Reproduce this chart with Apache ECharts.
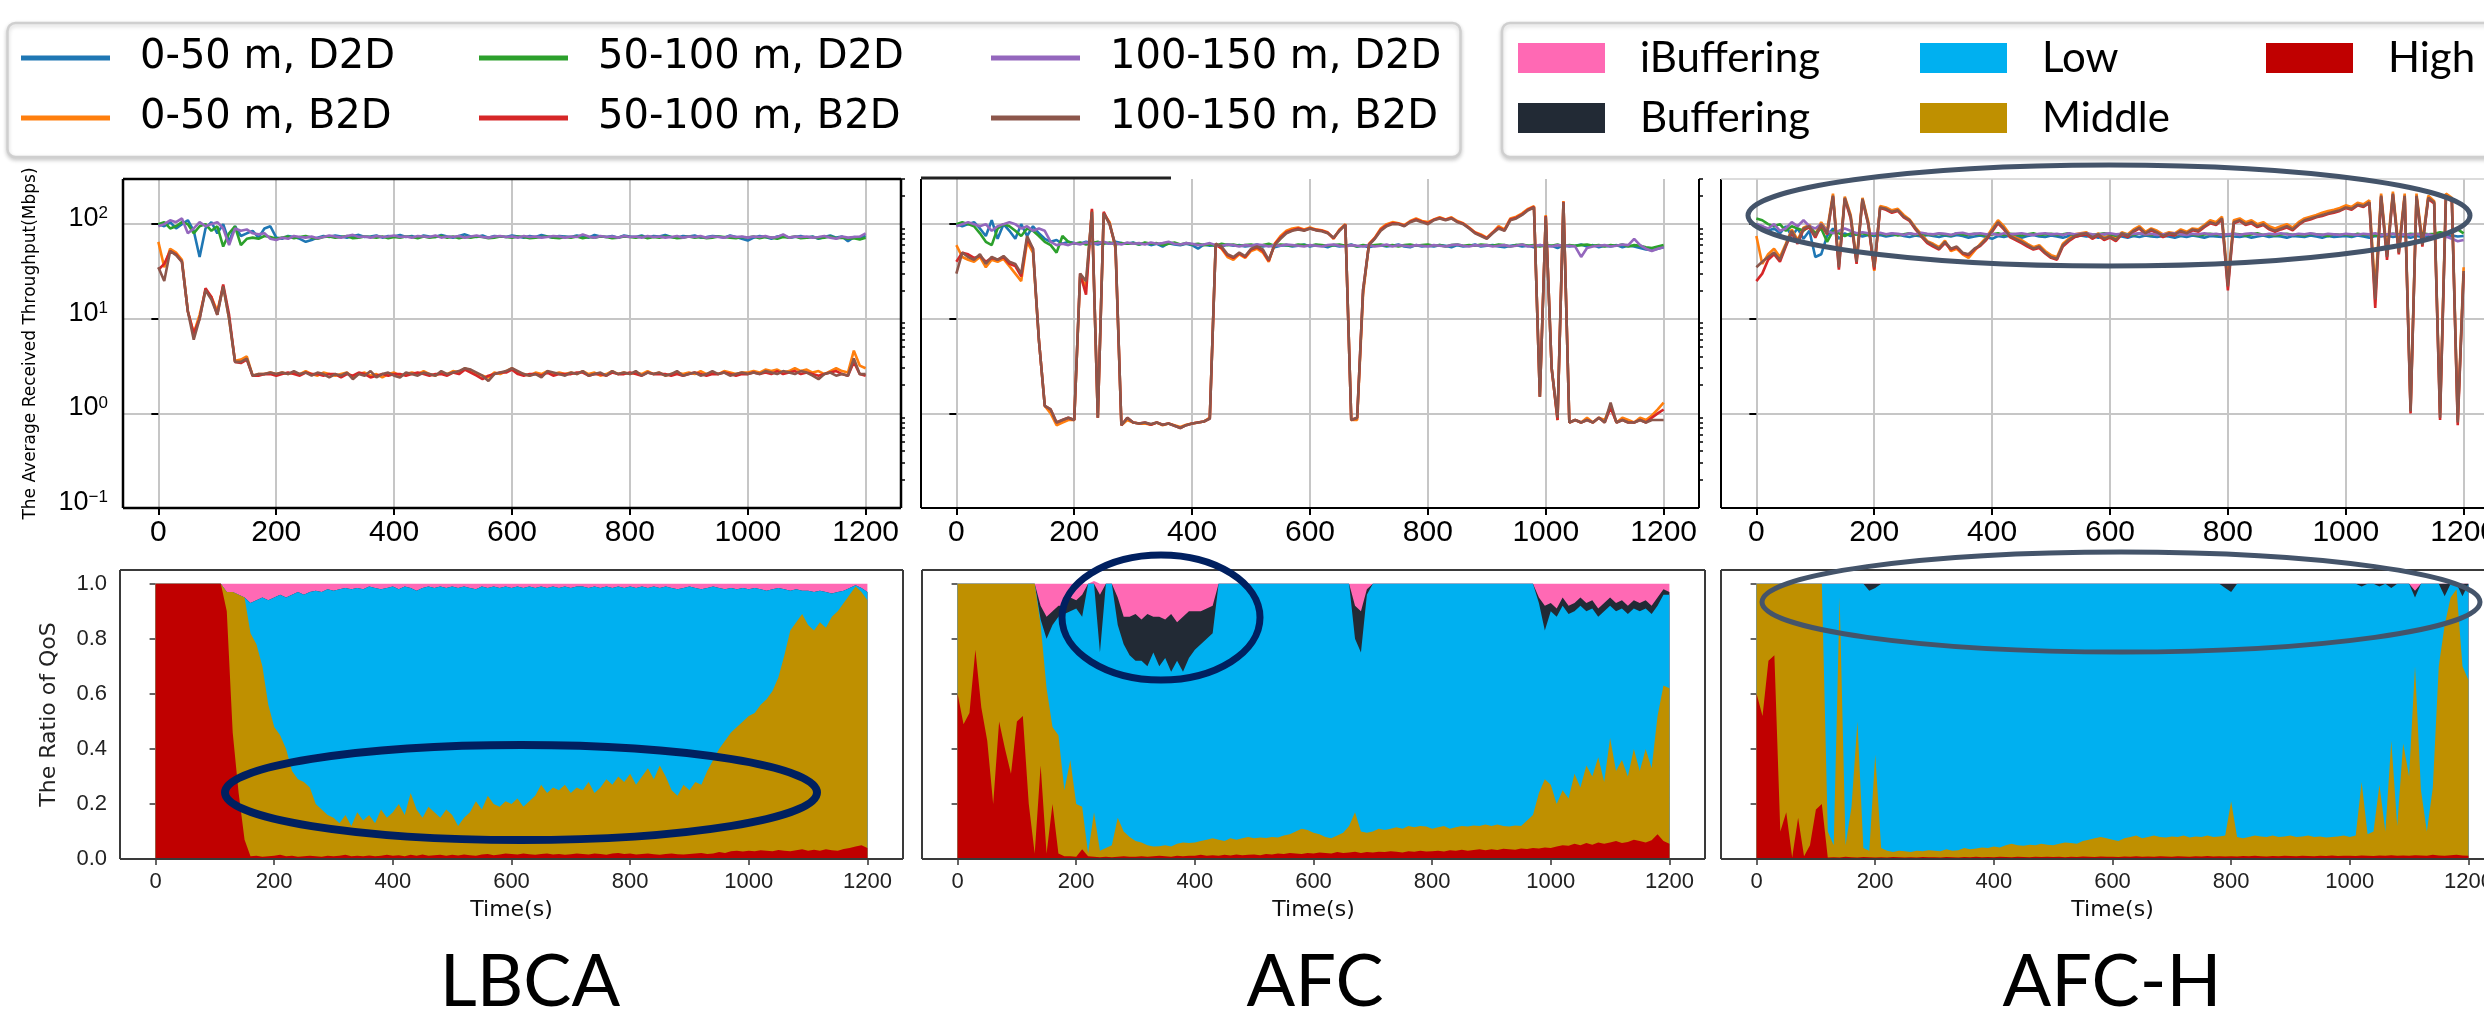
<!DOCTYPE html>
<html><head><meta charset="utf-8">
<script src="https://cdn.jsdelivr.net/npm/echarts@6/dist/echarts.min.js"></script>
<style>html,body{margin:0;padding:0;background:#fff}#c{width:2484px;height:1012px}</style>
</head><body><div id="c"></div><script>
// ---------- sampling grid (s) ----------
const T = [0,10,20,30,40,50,60,70,80,90,100,110,120,130,140,150,160,170,180,190,200,210,220,230,240,250,260,270,280,290,300,310,320,330,340,350,360,370,380,390,400,410,420,430,440,450,460,470,480,490,500,510,520,530,540,550,560,570,580,590,600,610,620,630,640,650,660,670,680,690,700,710,720,730,740,750,760,770,780,790,800,810,820,830,840,850,860,870,880,890,900,910,920,930,940,950,960,970,980,990,1000,1010,1020,1030,1040,1050,1060,1070,1080,1090,1100,1110,1120,1130,1140,1150,1160,1170,1180,1190,1200];
const X_TICKS = [0,200,400,600,800,1000,1200];
const TP_YTICKS = [0.1,1,10,100];
const TP_MINOR = [0.2,0.3,0.4,0.5,0.6,0.7,0.8,0.9,2,3,4,5,6,7,8,9,20,30,40,50,60,70,80,90,200,300];
const QOS_YTICKS = [0,0.2,0.4,0.6,0.8,1.0];
const PANEL_TITLES = ['LBCA','AFC','AFC-H'];

// ---------- LBCA throughput (Mbps) ----------
const lbcaD2D050 = [100,95,105,90,100,110,85,45,90,105,80,100,65,95,75,80,85,72,90,95,72,70,75,73,70,65,68,72,75,73,76,74,72,75,77,73,74,76,72,75,74,77,73,75,72,76,74,73,77,74,72,75,78,74,73,76,72,75,74,73,76,74,72,75,73,77,74,72,75,74,73,76,74,72,77,74,73,75,72,76,74,73,76,72,75,74,77,73,72,75,74,76,72,73,75,74,72,76,73,70,67,72,75,73,70,74,76,72,73,75,72,74,70,73,76,72,74,66,73,72,75];
const lbcaB2D050 = [65,35,55,50,42,12,7,11,20,17,12,22,10,3.6,3.7,4.0,2.5,2.6,2.6,2.7,2.6,2.7,2.6,2.7,2.6,2.8,2.6,2.5,2.7,2.6,2.5,2.6,2.7,2.4,2.6,2.7,2.5,2.6,2.4,2.6,2.7,2.5,2.6,2.7,2.6,2.8,2.6,2.5,2.7,2.6,2.8,2.7,3.0,2.8,2.6,2.5,2.4,2.7,2.6,2.8,3.0,2.7,2.6,2.5,2.7,2.6,2.8,2.6,2.7,2.6,2.7,2.6,2.8,2.6,2.7,2.5,2.6,2.8,2.6,2.7,2.6,2.7,2.6,2.8,2.6,2.7,2.5,2.6,2.7,2.6,2.7,2.6,2.8,2.6,2.7,2.6,2.8,2.7,2.6,2.7,2.7,2.8,2.7,2.9,2.8,2.9,2.7,2.8,3.0,2.8,2.9,2.7,2.8,2.6,2.8,3.0,2.8,2.7,4.6,3.2,3.0];
const lbcaD2D50100 = [100,105,90,95,105,100,80,95,100,85,95,58,80,95,60,70,72,70,75,73,70,72,74,71,73,75,72,70,73,74,72,73,75,71,72,74,73,72,74,71,73,72,74,73,71,74,72,73,75,72,74,71,73,72,74,73,71,72,74,73,72,74,73,71,72,73,74,72,71,73,72,74,71,73,72,74,73,71,72,74,73,72,74,71,73,72,74,73,71,72,74,72,73,71,72,74,73,72,71,73,72,74,71,73,72,70,73,72,74,71,72,73,71,72,74,71,72,70,71,69,72];
const lbcaB2D50100 = [33,38,52,48,40,12,7,10,21,17,11,23,11,3.5,3.4,3.7,2.5,2.5,2.6,2.6,2.5,2.6,2.7,2.6,2.5,2.7,2.6,2.6,2.5,2.6,2.6,2.4,2.6,2.5,2.7,2.6,2.4,2.5,2.6,2.5,2.6,2.6,2.5,2.6,2.7,2.6,2.5,2.6,2.6,2.5,2.7,2.6,2.9,2.7,2.5,2.3,2.5,2.6,2.7,2.7,2.9,2.6,2.5,2.6,2.6,2.5,2.7,2.5,2.6,2.6,2.6,2.7,2.7,2.5,2.6,2.6,2.5,2.7,2.6,2.6,2.7,2.6,2.5,2.7,2.6,2.6,2.6,2.5,2.6,2.5,2.6,2.7,2.6,2.5,2.6,2.6,2.7,2.6,2.5,2.6,2.6,2.7,2.6,2.7,2.6,2.8,2.6,2.7,2.8,2.6,2.7,2.6,2.5,2.6,2.7,2.8,2.6,2.5,3.5,2.6,2.5];
const lbcaD2D100150 = [95,100,110,105,115,80,90,105,95,100,105,90,60,90,85,88,80,78,80,70,68,72,70,75,73,72,74,71,73,76,74,72,75,77,73,74,72,75,73,74,76,73,74,72,75,74,73,76,72,74,73,75,72,74,76,73,72,74,75,73,74,72,75,73,74,72,73,75,74,72,74,73,78,74,72,75,73,74,72,75,73,74,72,75,73,74,72,73,75,72,74,73,75,72,74,73,72,75,73,74,72,74,73,75,72,73,78,72,74,73,74,72,73,75,72,70,74,72,73,74,80];
const lbcaB2D100150 = [35,25,52,47,40,12,6,10,20,16,11,22,10,3.5,3.5,3.8,2.5,2.6,2.6,2.7,2.6,2.7,2.6,2.8,2.6,2.7,2.5,2.7,2.6,2.4,2.6,2.5,2.7,2.3,2.6,2.5,2.8,2.4,2.6,2.7,2.5,2.4,2.7,2.6,2.5,2.7,2.6,2.5,2.8,2.6,2.7,2.8,3.0,2.9,2.7,2.5,2.2,2.6,2.7,2.8,3.0,2.8,2.6,2.5,2.6,2.4,2.8,2.7,2.6,2.5,2.7,2.6,2.8,2.5,2.6,2.7,2.5,2.8,2.6,2.7,2.6,2.8,2.5,2.7,2.6,2.7,2.5,2.6,2.8,2.5,2.6,2.7,2.5,2.6,2.8,2.6,2.7,2.5,2.6,2.7,2.6,2.7,2.6,2.8,2.7,2.6,2.8,2.7,2.6,2.8,2.7,2.5,2.3,2.6,2.7,2.5,2.6,2.5,3.8,2.6,2.6];

// ---------- AFC throughput (Mbps) ----------
const afcD2D050 = [100,95,100,105,90,75,110,70,100,85,70,100,75,95,80,70,65,68,62,65,63,62,65,63,61,64,62,65,63,62,64,61,63,60,62,58,63,61,60,62,60,55,61,59,60,58,61,59,60,58,59,61,58,60,57,59,60,58,59,61,58,60,59,57,60,58,59,61,58,59,57,59,60,58,59,61,58,57,60,58,59,58,60,59,57,60,58,59,61,58,59,60,58,57,59,60,58,59,57,60,58,59,56,60,58,59,61,58,60,57,59,58,60,57,59,58,56,54,53,55,57];
const afcB2D050 = [60,45,42,40,45,35,42,40,43,36,30,25,65,50,6,1.2,1.0,0.75,0.8,0.85,0.85,28,22,140,0.9,130,105,55,0.75,0.85,0.8,0.78,0.78,0.76,0.8,0.75,0.78,0.75,0.72,0.76,0.78,0.8,0.82,0.9,62,55,45,42,48,44,52,55,50,40,62,75,85,90,92,88,92,88,86,82,70,88,100,0.85,0.85,18,62,72,90,100,105,102,98,108,115,108,105,112,118,112,118,108,102,92,82,78,72,82,95,88,115,120,130,145,155,1.5,125,3,0.85,175,0.8,0.85,0.8,0.9,0.8,0.9,0.85,1.2,0.8,0.9,0.85,0.8,0.9,0.85,0.95,1.1,1.3];
const afcD2D50100 = [100,105,100,95,80,65,60,90,100,95,85,75,90,85,75,65,60,50,75,65,62,64,61,63,65,62,64,61,63,62,63,61,64,62,63,60,62,64,61,63,61,62,60,61,59,62,60,61,59,60,61,59,60,62,59,61,60,59,61,60,59,61,60,59,60,61,59,60,58,60,59,60,61,59,60,58,60,61,59,60,61,59,60,58,60,61,59,60,59,61,60,59,61,60,58,60,61,59,60,58,60,59,61,58,60,59,60,61,59,60,58,60,59,61,58,60,59,57,56,58,60];
const afcB2D50100 = [40,50,48,44,46,40,44,42,45,38,36,28,70,55,6,1.2,1.1,0.8,0.85,0.9,0.85,30,18,145,0.9,135,100,58,0.75,0.9,0.8,0.78,0.8,0.76,0.8,0.76,0.78,0.74,0.7,0.75,0.78,0.8,0.82,0.88,60,56,47,44,49,45,54,57,52,41,61,72,82,86,90,86,90,87,85,81,71,86,99,0.85,0.9,20,61,71,87,97,102,101,96,106,112,106,102,111,116,111,116,106,101,91,81,76,71,81,92,86,112,117,127,142,152,1.5,122,3,0.85,172,0.8,0.85,0.8,0.85,0.8,0.9,0.8,1.15,0.8,0.85,0.8,0.8,0.85,0.8,0.9,1.0,1.1];
const afcD2D100150 = [95,100,105,100,95,100,85,95,100,105,100,90,95,85,90,85,65,60,62,60,63,61,64,62,63,65,62,63,61,64,62,63,61,64,62,63,65,62,61,63,62,60,61,63,60,59,61,60,58,60,59,61,60,58,60,59,61,60,59,58,60,59,58,60,61,59,58,60,59,58,60,58,59,61,58,60,59,58,60,59,58,60,59,58,60,61,59,58,60,59,60,58,59,60,58,59,61,58,59,60,59,58,60,59,59,58,45,56,58,59,60,58,59,61,60,70,60,55,52,55,57];
const afcB2D100150 = [30,50,45,42,48,38,45,42,46,40,38,30,75,55,6,1.2,1.1,0.8,0.85,0.9,0.85,30,25,135,0.9,130,100,60,0.75,0.9,0.8,0.78,0.8,0.77,0.8,0.76,0.78,0.74,0.7,0.75,0.78,0.8,0.82,0.88,62,58,48,45,50,46,55,58,54,42,60,70,80,85,88,85,90,86,84,80,72,85,98,0.85,0.9,20,60,70,85,95,100,100,95,105,110,105,100,110,115,110,115,105,100,90,80,75,70,80,90,85,110,115,125,140,150,1.5,120,3,0.9,170,0.8,0.85,0.8,0.85,0.8,0.9,0.8,1.3,0.8,0.85,0.8,0.8,0.85,0.8,0.85,0.85,0.85];

// ---------- AFC-H throughput (Mbps) ----------
const afchD2D050 = [100,95,85,90,80,95,75,90,70,85,45,48,75,90,70,80,75,78,74,77,75,77,74,76,78,75,73,76,74,77,75,73,76,74,77,75,72,74,76,73,70,75,73,76,74,72,75,77,74,73,76,74,72,75,73,76,74,75,72,74,73,76,74,72,75,73,76,74,73,75,74,72,75,73,76,74,72,75,74,73,76,74,73,75,72,74,76,73,75,74,72,75,74,73,76,74,72,75,73,74,75,73,76,74,72,75,74,76,73,75,74,72,75,73,76,74,75,73,76,74,75];
const afchB2D050 = [75,38,48,55,45,62,88,68,92,98,78,105,85,210,38,195,125,42,190,105,32,155,150,140,145,125,112,92,78,66,62,57,67,52,55,48,44,52,62,72,90,110,95,78,72,68,62,57,60,52,47,45,62,70,78,80,82,74,80,72,76,70,82,78,88,95,83,90,85,78,82,80,88,83,90,88,98,110,105,120,25,110,115,105,110,100,105,95,90,95,100,92,105,115,120,125,132,138,142,148,158,152,168,162,178,20,210,50,220,55,210,1.1,210,65,200,175,1.0,210,190,0.85,35];
const afchD2D50100 = [115,110,100,95,100,85,95,90,85,95,80,90,65,85,80,75,80,78,80,77,78,80,77,79,76,78,80,77,79,78,77,79,78,76,80,78,77,79,78,76,78,80,77,79,78,76,78,80,77,78,79,77,78,80,76,78,79,77,78,80,78,76,79,78,77,80,78,77,79,76,78,79,77,80,78,76,78,79,77,78,77,79,78,76,78,80,77,78,76,78,79,77,78,76,79,78,77,75,78,77,78,76,79,77,78,76,78,77,79,78,77,79,78,80,78,79,82,80,84,88,80];
const afchB2D50100 = [25,30,42,48,40,58,82,62,88,92,72,98,78,195,33,185,115,38,180,98,33,148,142,132,138,118,108,88,74,63,58,54,63,54,57,49,47,54,59,68,83,102,88,73,68,63,58,54,56,49,44,42,58,66,73,76,78,70,76,68,72,66,78,73,83,90,78,86,80,73,78,76,83,78,86,83,93,102,98,112,20,102,108,98,102,93,98,88,83,88,92,86,98,108,112,118,122,128,132,138,148,142,158,152,168,13,195,42,205,48,195,1.0,195,58,185,165,0.85,195,175,0.75,30];
const afchD2D100150 = [100,95,90,100,85,90,105,95,110,95,90,100,85,80,85,90,85,80,82,80,79,81,78,80,79,77,80,78,81,79,78,80,79,77,80,81,78,79,80,78,79,77,80,78,79,80,78,77,79,80,78,79,77,80,78,79,80,78,77,79,80,78,79,77,79,80,78,79,77,78,79,80,78,77,79,78,80,78,79,77,78,79,77,79,80,78,77,79,78,80,78,77,79,78,80,78,77,79,78,77,79,78,77,79,78,80,77,78,79,77,78,77,79,76,78,75,77,74,70,66,68];
const afchB2D100150 = [35,40,45,50,42,60,85,65,90,95,75,100,80,200,35,190,120,40,185,100,35,150,145,135,140,120,110,90,75,65,60,55,65,55,58,50,48,55,60,70,85,105,90,75,70,65,60,55,58,50,45,43,60,68,75,78,80,72,78,70,74,68,80,75,85,92,80,88,82,75,80,78,85,80,88,85,95,105,100,115,22,105,110,100,105,95,100,90,85,90,95,88,100,110,115,120,125,130,135,140,150,145,160,155,170,16,200,45,210,50,200,1.05,200,60,190,170,0.9,200,180,0.8,32];

// ---------- QoS ratio: upper edge of each layer ----------
const lbcaHighTop = [1,1,1,1,1,1,1,1,1,1,1,1,0.9,0.46,0.24,0.07,0.01,0.012,0.008,0.01,0.012,0.015,0.01,0.012,0.008,0.01,0.012,0.01,0.008,0.012,0.01,0.012,0.015,0.01,0.012,0.01,0.013,0.01,0.012,0.015,0.012,0.014,0.01,0.015,0.012,0.016,0.012,0.014,0.015,0.012,0.015,0.013,0.016,0.014,0.012,0.016,0.018,0.014,0.016,0.02,0.018,0.016,0.02,0.017,0.015,0.018,0.02,0.016,0.018,0.015,0.017,0.02,0.018,0.016,0.02,0.018,0.015,0.02,0.022,0.018,0.02,0.016,0.018,0.02,0.017,0.015,0.018,0.02,0.017,0.016,0.018,0.02,0.022,0.018,0.02,0.025,0.022,0.028,0.03,0.027,0.03,0.028,0.032,0.03,0.028,0.033,0.03,0.028,0.032,0.035,0.03,0.034,0.03,0.035,0.032,0.03,0.036,0.04,0.045,0.05,0.04];
const lbcaMidTop = [1,1,1,1,1,1,1,1,1,1,1,1,0.97,0.97,0.96,0.95,0.82,0.78,0.7,0.56,0.48,0.45,0.4,0.32,0.29,0.28,0.26,0.2,0.18,0.16,0.15,0.13,0.16,0.12,0.17,0.14,0.16,0.13,0.18,0.15,0.17,0.2,0.16,0.24,0.18,0.15,0.19,0.17,0.15,0.18,0.16,0.12,0.15,0.17,0.21,0.18,0.23,0.2,0.19,0.21,0.2,0.22,0.19,0.21,0.23,0.27,0.24,0.26,0.25,0.27,0.24,0.26,0.25,0.28,0.24,0.26,0.29,0.27,0.3,0.28,0.31,0.27,0.3,0.33,0.29,0.34,0.3,0.25,0.23,0.27,0.25,0.28,0.27,0.32,0.36,0.4,0.43,0.46,0.48,0.5,0.52,0.53,0.56,0.58,0.61,0.66,0.74,0.83,0.86,0.89,0.85,0.83,0.86,0.84,0.88,0.9,0.93,0.96,0.99,0.97,0.94];
const lbcaLowTop = [1,1,1,1,1,1,1,1,1,1,1,1,0.97,0.97,0.96,0.95,0.93,0.94,0.95,0.94,0.95,0.96,0.95,0.96,0.97,0.96,0.97,0.975,0.97,0.98,0.975,0.98,0.985,0.98,0.985,0.98,0.99,0.985,0.98,0.985,0.99,0.98,0.99,0.985,0.975,0.985,0.99,0.985,0.99,0.985,0.99,0.985,0.99,0.985,0.98,0.99,0.985,0.99,0.985,0.99,0.985,0.99,0.985,0.99,0.985,0.99,0.985,0.99,0.985,0.99,0.985,0.99,0.99,0.985,0.99,0.985,0.99,0.985,0.99,0.985,0.99,0.985,0.99,0.985,0.99,0.985,0.99,0.985,0.98,0.985,0.99,0.985,0.98,0.985,0.99,0.985,0.98,0.985,0.98,0.985,0.98,0.985,0.98,0.975,0.98,0.985,0.98,0.975,0.98,0.975,0.975,0.97,0.975,0.97,0.965,0.97,0.975,0.985,0.995,0.985,0.97];
const lbcaBufTop = lbcaLowTop; // no visible Buffering layer in LBCA

const afcHighTop = [0.6,0.49,0.53,0.76,0.55,0.43,0.2,0.5,0.4,0.31,0.5,0.52,0.2,0.02,0.34,0.02,0.2,0.02,0.01,0.01,0.008,0.035,0.01,0.008,0.006,0.008,0.006,0.008,0.01,0.008,0.008,0.01,0.008,0.01,0.012,0.01,0.008,0.012,0.01,0.012,0.012,0.015,0.012,0.014,0.012,0.015,0.013,0.016,0.014,0.015,0.016,0.014,0.018,0.016,0.02,0.018,0.022,0.02,0.018,0.022,0.02,0.024,0.022,0.02,0.025,0.022,0.024,0.026,0.022,0.025,0.024,0.026,0.025,0.028,0.026,0.024,0.028,0.026,0.03,0.027,0.028,0.03,0.027,0.032,0.03,0.034,0.03,0.033,0.035,0.032,0.035,0.033,0.037,0.035,0.034,0.038,0.036,0.04,0.038,0.042,0.04,0.045,0.05,0.048,0.055,0.05,0.058,0.052,0.06,0.055,0.06,0.065,0.058,0.062,0.07,0.065,0.06,0.068,0.09,0.065,0.055];
const afcMidTop = [1,1,1,1,1,1,1,1,1,1,1,1,1,1,0.85,0.62,0.48,0.45,0.25,0.36,0.2,0.19,0.02,0.17,0.03,0.04,0.05,0.15,0.1,0.08,0.065,0.06,0.05,0.045,0.046,0.05,0.045,0.055,0.06,0.058,0.06,0.065,0.07,0.075,0.07,0.065,0.075,0.07,0.075,0.08,0.075,0.078,0.076,0.08,0.078,0.085,0.09,0.1,0.11,0.105,0.095,0.09,0.08,0.075,0.085,0.095,0.12,0.17,0.1,0.095,0.1,0.11,0.105,0.11,0.115,0.11,0.12,0.115,0.12,0.118,0.11,0.115,0.12,0.11,0.115,0.12,0.118,0.122,0.12,0.125,0.12,0.125,0.12,0.118,0.122,0.12,0.14,0.16,0.24,0.29,0.27,0.2,0.25,0.22,0.31,0.26,0.34,0.3,0.37,0.28,0.44,0.32,0.36,0.3,0.4,0.32,0.4,0.33,0.52,0.63,0.62];
const afcLowTop = [1,1,1,1,1,1,1,1,1,1,1,1,1,1,0.87,0.8,0.85,0.88,0.89,0.9,0.91,0.88,1,1,0.75,1,1,0.85,0.78,0.74,0.72,0.72,0.7,0.75,0.7,0.73,0.68,0.72,0.68,0.73,0.76,0.78,0.8,0.82,1,1,1,1,1,1,1,1,1,1,1,1,1,1,1,1,1,1,1,1,1,1,1,0.8,0.75,0.96,1,1,1,1,1,1,1,1,1,1,1,1,1,1,1,1,1,1,1,1,1,1,1,1,1,1,1,1,0.93,0.83,0.9,0.88,0.92,0.89,0.9,0.92,0.9,0.91,0.88,0.9,0.92,0.9,0.91,0.89,0.91,0.9,0.91,0.89,0.92,0.96,0.96];
const afcBufTop = [1,1,1,1,1,1,1,1,1,1,1,1,1,1,0.92,0.88,0.9,0.92,0.92,0.95,0.94,0.96,1,0.99,0.96,1,1,0.95,0.88,0.88,0.89,0.87,0.89,0.88,0.88,0.87,0.89,0.86,0.88,0.9,0.9,0.9,0.91,0.92,1,1,1,1,1,1,1,1,1,1,1,1,1,1,1,1,1,1,1,1,1,1,1,0.92,0.9,0.98,1,1,1,1,1,1,1,1,1,1,1,1,1,1,1,1,1,1,1,1,1,1,1,1,1,1,1,1,0.95,0.92,0.93,0.91,0.95,0.92,0.93,0.95,0.93,0.94,0.91,0.93,0.95,0.93,0.94,0.92,0.94,0.93,0.94,0.92,0.95,0.98,0.97];

const afchHighTop = [0.6,0.52,0.72,0.74,0.1,0.17,0.005,0.15,0.01,0.05,0.18,0.2,0.005,0.006,0.005,0.008,0.006,0.005,0.007,0.006,0.005,0.006,0.005,0.007,0.006,0.005,0.006,0.005,0.007,0.006,0.006,0.005,0.007,0.006,0.005,0.007,0.006,0.008,0.006,0.007,0.006,0.008,0.007,0.006,0.008,0.007,0.006,0.008,0.007,0.008,0.007,0.008,0.006,0.008,0.007,0.009,0.008,0.007,0.009,0.008,0.008,0.007,0.009,0.008,0.01,0.008,0.009,0.008,0.01,0.009,0.008,0.01,0.009,0.008,0.01,0.009,0.011,0.009,0.01,0.009,0.01,0.009,0.011,0.01,0.012,0.01,0.009,0.011,0.01,0.012,0.011,0.01,0.012,0.011,0.01,0.012,0.011,0.013,0.011,0.012,0.012,0.011,0.013,0.012,0.011,0.013,0.012,0.014,0.012,0.013,0.012,0.014,0.013,0.012,0.015,0.013,0.012,0.014,0.015,0.013,0.012];
const afchMidTop = [1,1,1,1,1,1,1,1,1,1,1,1,0.1,0.05,0.95,0.05,0.19,0.5,0.04,0.03,0.38,0.04,0.03,0.025,0.03,0.028,0.025,0.03,0.028,0.032,0.03,0.028,0.035,0.03,0.032,0.04,0.035,0.038,0.042,0.04,0.045,0.042,0.05,0.055,0.05,0.048,0.052,0.05,0.055,0.052,0.05,0.055,0.06,0.058,0.055,0.065,0.07,0.075,0.08,0.075,0.07,0.065,0.075,0.08,0.085,0.075,0.08,0.085,0.08,0.078,0.082,0.08,0.085,0.078,0.082,0.08,0.085,0.08,0.082,0.085,0.21,0.08,0.075,0.08,0.085,0.082,0.08,0.085,0.08,0.082,0.085,0.08,0.082,0.085,0.08,0.082,0.078,0.08,0.082,0.085,0.08,0.085,0.28,0.09,0.1,0.27,0.1,0.43,0.12,0.42,0.3,0.7,0.25,0.1,0.26,0.7,0.85,0.95,0.98,0.7,0.65];
const afchLowTop = [1,1,1,1,1,1,1,1,1,1,1,1,1,1,1,1,1,1,1,0.975,0.985,1,1,1,1,1,1,1,1,1,1,1,1,1,1,1,1,1,1,1,1,1,1,1,1,1,1,1,1,1,1,1,1,1,1,1,1,1,1,1,1,1,1,1,1,1,1,1,1,1,1,1,1,1,1,1,1,1,1,0.985,0.97,1,1,1,1,1,1,1,1,1,1,1,1,1,1,1,1,1,1,1,1,1,0.99,1,1,0.99,1,0.985,1,1,1,0.95,1,1,1,1,0.955,1,1,0.955,1];
const afchBufTop = [1,1,1,1,1,1,1,1,1,1,1,1,1,1,1,1,1,1,1,1,1,1,1,1,1,1,1,1,1,1,1,1,1,1,1,1,1,1,1,1,1,1,1,1,1,1,1,1,1,1,1,1,1,1,1,1,1,1,1,1,1,1,1,1,1,1,1,1,1,1,1,1,1,1,1,1,1,1,1,1,1,1,1,1,1,1,1,1,1,1,1,1,1,1,1,1,1,1,1,1,1,1,1,1,1,1,1,1,1,1,1,0.975,1,1,1,1,1,1,1,1,1];

// ---------- assembly ----------
const F = 'Liberation Sans, Arial, sans-serif';
const FD = 'DejaVu Sans, sans-serif';
const TP_NAMES = ['0-50 m, D2D','0-50 m, B2D','50-100 m, D2D','50-100 m, B2D','100-150 m, D2D','100-150 m, B2D'];
const TP_COLORS = ['#1f77b4','#ff7f0e','#2ca02c','#d62728','#9467bd','#8c564b'];
const TP_DATA = [
  [lbcaD2D050,lbcaB2D050,lbcaD2D50100,lbcaB2D50100,lbcaD2D100150,lbcaB2D100150],
  [afcD2D050,afcB2D050,afcD2D50100,afcB2D50100,afcD2D100150,afcB2D100150],
  [afchD2D050,afchB2D050,afchD2D50100,afchB2D50100,afchD2D100150,afchB2D100150]];
const QOS_NAMES = ['High','Middle','Low','Buffering','iBuffering'];
const QOS_COLORS = ['#c00000','#bf9000','#00b0f0','#222a35','#ff69b4'];
const QOS_BOUNDS = [
  [lbcaHighTop,lbcaMidTop,lbcaLowTop,lbcaBufTop],
  [afcHighTop,afcMidTop,afcLowTop,afcBufTop],
  [afchHighTop,afchMidTop,afchLowTop,afchBufTop]];
// share of each QoS state, then running (stacked) totals
function shares(b){
  const [h,m,l,bf]=b;
  return [h, m.map((v,i)=>Math.max(0,v-h[i])), l.map((v,i)=>Math.max(0,v-m[i])),
          bf.map((v,i)=>Math.max(0,v-l[i])), bf.map(v=>Math.max(0,1-v))];
}
function cumulative(sh){
  const out=[]; let run=sh[0].map(()=>0);
  sh.forEach(s=>{ run=run.map((v,i)=>v+s[i]); out.push(run.slice()); });
  return out;
}

const TOP_X=[123,921,1721], TOP_W=778, TOP_Y=179, TOP_H=329;
const BOT_X=[120,922,1721], BOT_W=783, BOT_Y=570, BOT_H=289;

const grids=[], xAxes=[], yAxes=[], series=[];
function logLabel(v){ const e=Math.round(Math.log10(v)); return '{a|10}{b|'+(e<0?'\u2212'+(-e):e)+'}'; }
const plain = v => String(v);

for(let p=0;p<3;p++){
  grids.push({left:TOP_X[p],top:TOP_Y,width:TOP_W,height:TOP_H,show:false,containLabel:false,outerBoundsMode:'none'});
  xAxes.push({gridIndex:p,type:'value',min:-60,max:1260,
    axisLine:{show:false},
    axisTick:{show:true,length:7,customValues:X_TICKS,lineStyle:{color:'#000',width:2}},
    axisLabel:{show:true,customValues:X_TICKS,formatter:plain,fontSize:30,fontFamily:F,color:'#000',margin:10},
    splitLine:{show:true,lineStyle:{color:'#c6c6c6',width:2}}});
  yAxes.push({gridIndex:p,type:'log',logBase:10,min:0.1,max:300,
    axisLine:{show:false},
    axisTick:{show:true,length:7,customValues:TP_YTICKS,lineStyle:{color:'#000',width:2}},
    axisLabel:{show:p===0,customValues:TP_YTICKS,formatter:logLabel,margin:15,padding:[0,0,11,0],
      rich:{a:{fontSize:27,lineHeight:27,padding:[11,0,0,0],verticalAlign:'bottom',fontFamily:F,color:'#000'},
            b:{fontSize:17,lineHeight:17,verticalAlign:'top',fontFamily:F,color:'#000'}}},
    splitLine:{show:true,lineStyle:{color:'#c6c6c6',width:2}},
    name:p===0?'The Average Received Throughput(Mbps)':'',nameLocation:'middle',nameGap:84,
    nameTextStyle:{fontSize:17,fontFamily:FD,color:'#000'}});
  TP_DATA[p].forEach((arr,k)=>{
    series.push({type:'line',name:TP_NAMES[k],xAxisIndex:p,yAxisIndex:p,color:TP_COLORS[k],
      data:T.map((t,i)=>[t,arr[i]]),showSymbol:false,symbol:'none',
      lineStyle:{width:2.6,color:TP_COLORS[k]},z:2+k,animation:false});
  });
}
for(let p=0;p<3;p++){
  const gi=3+p;
  grids.push({left:BOT_X[p],top:BOT_Y,width:BOT_W,height:BOT_H,show:false,containLabel:false,outerBoundsMode:'none'});
  xAxes.push({gridIndex:gi,type:'value',min:-60,max:1260,
    axisLine:{show:false},
    axisTick:{show:true,length:6,customValues:X_TICKS,lineStyle:{color:'#333',width:1.5}},
    axisLabel:{show:true,customValues:X_TICKS,formatter:plain,fontSize:22,fontFamily:F,color:'#222',margin:12},
    splitLine:{show:false},
    name:'Time(s)',nameLocation:'middle',nameGap:40,nameTextStyle:{fontSize:22,fontFamily:FD,color:'#111'}});
  yAxes.push({gridIndex:gi,type:'value',min:0,max:1.05,
    axisLine:{show:false},
    axisTick:{show:true,length:6,customValues:QOS_YTICKS,lineStyle:{color:'#333',width:1.5}},
    axisLabel:{show:p===0,customValues:QOS_YTICKS,fontSize:22,fontFamily:F,color:'#222',margin:13,
      formatter:v=>v.toFixed(1)},
    splitLine:{show:false},
    name:p===0?'The Ratio of QoS':'',nameLocation:'middle',nameGap:60,
    nameTextStyle:{fontSize:22,fontFamily:FD,color:'#222'}});
  const cum=cumulative(shares(QOS_BOUNDS[p]));
  // draw the tallest (top) layer first so that lower layers paint over it
  for(let k=4;k>=0;k--){
    series.push({type:'line',name:QOS_NAMES[k],xAxisIndex:gi,yAxisIndex:gi,color:QOS_COLORS[k],
      data:T.map((t,i)=>[t,cum[k][i]]),showSymbol:false,symbol:'none',
      lineStyle:{width:0,color:QOS_COLORS[k]},areaStyle:{color:QOS_COLORS[k],opacity:1},z:2,animation:false});
  }
}
// minor ticks on the log axes
for(let p=0;p<3;p++){
  yAxes.push({gridIndex:p,type:'log',logBase:10,min:0.1,max:300,
    axisLine:{show:false},axisLabel:{show:false},splitLine:{show:false},
    axisTick:{show:true,length:4,customValues:TP_MINOR,lineStyle:{color:'#000',width:1.5}}});
}

// legends
const legends=[];
const L1_COLS=[21,479,991], L2_COLS=[1518,1920,2266], L_ROWS=[58,118];
TP_NAMES.forEach((n,k)=>{
  legends.push({data:[n],left:L1_COLS[Math.floor(k/2)],top:L_ROWS[k%2]-25,padding:0,
    itemWidth:89,itemHeight:5,icon:'rect',selectedMode:false,z:10,
    textStyle:{fontSize:40,fontFamily:FD,color:'#000',lineHeight:50,padding:[0,0,0,25]}});
});
['iBuffering','Buffering','Low','Middle','High'].forEach((n,k)=>{
  legends.push({data:[n],left:L2_COLS[Math.floor(k/2)],top:L_ROWS[k%2]-25,padding:0,
    itemWidth:87,itemHeight:30,icon:'rect',selectedMode:false,z:10,
    textStyle:{fontSize:42,fontFamily:'Lato, sans-serif',color:'#000',lineHeight:50,padding:[0,0,0,30]}});
});

// frames, legend boxes, annotations, titles
const G=[];
function ln(x1,y1,x2,y2,c,w){G.push({type:'line',silent:true,z:50,shape:{x1,y1,x2,y2},style:{stroke:c,lineWidth:w}});}
function box(x,y,w,h,c,lw){ln(x,y,x+w,y,c,lw);ln(x,y+h,x+w,y+h,c,lw);ln(x,y,x,y+h,c,lw);ln(x+w,y,x+w,y+h,c,lw);}
box(TOP_X[0],TOP_Y,TOP_W,TOP_H,'#000',2.5);
ln(TOP_X[1],TOP_Y,TOP_X[1],TOP_Y+TOP_H,'#000',2);
ln(TOP_X[1],TOP_Y+TOP_H,TOP_X[1]+TOP_W,TOP_Y+TOP_H,'#000',2);
ln(TOP_X[1]+TOP_W,TOP_Y,TOP_X[1]+TOP_W,TOP_Y+TOP_H,'#000',2);
ln(TOP_X[1],TOP_Y-1,1171,TOP_Y-1,'#222',3);
ln(TOP_X[2],TOP_Y,TOP_X[2],TOP_Y+TOP_H,'#000',2);
ln(TOP_X[2],TOP_Y+TOP_H,2484,TOP_Y+TOP_H,'#000',2);
ln(TOP_X[2],TOP_Y,2484,TOP_Y,'#d0d0d0',1.5);
for(let p=0;p<3;p++) box(BOT_X[p],BOT_Y,BOT_W,BOT_H,'#3a3a3a',2);
G.push({type:'rect',silent:true,z:1,shape:{x:7.5,y:23,width:1453,height:134,r:8},
  style:{fill:'#fff',stroke:'#cfcfcf',lineWidth:2.5,shadowBlur:4,shadowColor:'rgba(0,0,0,0.18)',shadowOffsetY:2}});
G.push({type:'rect',silent:true,z:1,shape:{x:1502,y:23,width:1010,height:134,r:8},
  style:{fill:'#fff',stroke:'#cfcfcf',lineWidth:2.5,shadowBlur:4,shadowColor:'rgba(0,0,0,0.18)',shadowOffsetY:2}});
function ell(cx,cy,rx,ry,c,w){G.push({type:'ellipse',silent:true,z:60,shape:{cx,cy,rx,ry},style:{fill:'none',stroke:c,lineWidth:w}});}
ell(2109,215.5,361,50.5,'#44546a',5);
ell(2121,602,359,50,'#44546a',5);
ell(521,792.5,296,47.5,'#002060',8);
ell(1161,617.5,99,62.5,'#002060',7);
[[530,PANEL_TITLES[0]],[1315,PANEL_TITLES[1]],[2112,PANEL_TITLES[2]]].forEach(([x,t])=>{
  G.push({type:'text',silent:true,z:60,x:x,y:983,style:{text:t,fontSize:72,fontFamily:'Lato, sans-serif',fill:'#000',
    align:'center',verticalAlign:'middle',textAlign:'center',textVerticalAlign:'middle'}});
});

const chart=echarts.init(document.getElementById('c'));
chart.setOption({
  animation:false, backgroundColor:'#fff',
  grid:grids, xAxis:xAxes, yAxis:yAxes, series:series, legend:legends,
  graphic:{elements:G}
});
</script></body></html>
